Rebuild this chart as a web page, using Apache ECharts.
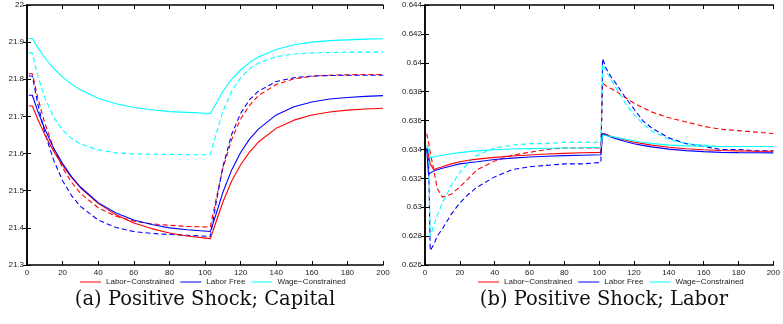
<!DOCTYPE html>
<html>
<head>
<meta charset="utf-8">
<script src="https://cdn.jsdelivr.net/npm/echarts@6/dist/echarts.min.js"></script>
<style>
html,body{margin:0;padding:0;background:#fff;}
#c{width:783px;height:324px;}
</style>
</head>
<body>
<div id="c"></div>
<script>
// ---------- Panel (a): Capital ----------
const timeA = [1,3,6,10,15,20,25,30,40,50,60,70,80,90,103,106,110,115,120,125,130,140,150,160,170,180,190,200];
const capRedSolid  = [21.728,21.728,21.693,21.651,21.606,21.568,21.536,21.508,21.466,21.435,21.413,21.398,21.386,21.378,21.371,21.413,21.469,21.526,21.570,21.604,21.631,21.668,21.690,21.704,21.712,21.717,21.720,21.722];
const capBlueSolid = [21.757,21.757,21.715,21.666,21.614,21.573,21.538,21.510,21.468,21.440,21.421,21.409,21.400,21.395,21.390,21.434,21.495,21.556,21.603,21.639,21.666,21.704,21.726,21.739,21.747,21.751,21.754,21.756];
const capCyanSolid = [21.910,21.910,21.886,21.858,21.829,21.806,21.787,21.772,21.749,21.734,21.724,21.718,21.713,21.711,21.708,21.733,21.767,21.800,21.825,21.845,21.860,21.880,21.893,21.900,21.904,21.906,21.908,21.909];
const capRedDash   = [21.815,21.815,21.751,21.682,21.614,21.562,21.523,21.493,21.454,21.431,21.418,21.411,21.407,21.404,21.402,21.472,21.559,21.638,21.693,21.730,21.756,21.786,21.801,21.808,21.811,21.812,21.813,21.813];
const capBlueDash  = [21.809,21.809,21.735,21.656,21.582,21.527,21.487,21.458,21.421,21.401,21.390,21.385,21.382,21.380,21.377,21.461,21.564,21.652,21.708,21.745,21.768,21.794,21.804,21.809,21.810,21.811,21.811,21.811];
const capCyanDash  = [21.871,21.871,21.810,21.750,21.698,21.663,21.641,21.626,21.610,21.602,21.599,21.598,21.598,21.597,21.597,21.649,21.713,21.768,21.804,21.828,21.844,21.861,21.868,21.871,21.872,21.873,21.873,21.873];

// ---------- Panel (b): Labor ----------
const timeB = [1,2,3,5,7,10,15,20,25,30,40,50,60,70,80,90,101,102,104,107,110,115,120,125,130,140,150,160,170,180,190,200];
const labRedSolid  = [0.6340,0.6336,0.6330,0.6326,0.6327,0.6328,0.6330,0.63315,0.63325,0.63333,0.63345,0.63355,0.63362,0.63368,0.63373,0.63377,0.6338,0.6351,0.63505,0.6349,0.6348,0.63465,0.6345,0.6344,0.6343,0.63415,0.63405,0.63398,0.63393,0.6339,0.63388,0.63387];
const labBlueSolid = [0.6340,0.6323,0.6323,0.6325,0.6326,0.6327,0.63285,0.6330,0.63308,0.63315,0.6333,0.6334,0.63348,0.63353,0.63357,0.6336,0.63363,0.6351,0.6350,0.63485,0.63472,0.63455,0.6344,0.63428,0.63418,0.63402,0.63392,0.63385,0.6338,0.63378,0.63377,0.63376];
const labCyanSolid = [0.6342,0.6340,0.6334,0.6335,0.63355,0.6336,0.6337,0.63378,0.63385,0.6339,0.63398,0.63403,0.63406,0.63408,0.6341,0.63412,0.63415,0.6350,0.63495,0.6349,0.63482,0.6347,0.6346,0.6345,0.63442,0.6343,0.63425,0.63422,0.6342,0.6342,0.6342,0.6342];
const labRedDash   = [0.6351,0.6345,0.6338,0.6326,0.6313,0.6307,0.6309,0.6314,0.6320,0.6326,0.6332,0.6336,0.6338,0.6340,0.6341,0.6341,0.6341,0.6386,0.6384,0.6382,0.6380,0.6376,0.6372,0.6369,0.6366,0.6362,0.6359,0.6356,0.6354,0.6353,0.6352,0.6351];
const labBlueDash  = [0.6341,0.6338,0.6270,0.6274,0.6280,0.6285,0.6295,0.6303,0.6309,0.6314,0.6321,0.6326,0.6328,0.6329,0.6330,0.6330,0.6331,0.6403,0.6396,0.6390,0.6385,0.6376,0.6368,0.6360,0.6355,0.6348,0.6344,0.6342,0.6340,0.6340,0.6339,0.6339];
const labCyanDash  = [0.6343,0.6340,0.6280,0.6287,0.6294,0.6303,0.6315,0.6324,0.6331,0.6336,0.6341,0.6343,0.6344,0.6344,0.6345,0.6345,0.6345,0.6399,0.6394,0.6388,0.6382,0.6372,0.6364,0.6358,0.6353,0.6347,0.6344,0.6343,0.6342,0.6342,0.6342,0.6342];

const legendNames = ['Labor\u2212Constrained','Labor Free','Wage\u2212Constrained'];
const captions = ['(a) Positive Shock; Capital','(b) Positive Shock; Labor'];
const xTicks = {min:0, max:200, interval:20};
const yTicksA = {min:21.3, max:22, interval:0.1};
const yTicksB = {min:0.626, max:0.644, interval:0.002};

const RED='#ff0000', BLUE='#0000ff', CYAN='#00ffff';
const fmt = v => String(parseFloat(Number(v).toFixed(4)));
const lab = {fontFamily:'"Liberation Sans", Arial, sans-serif', fontSize:8, color:'#222'};
const axLine = {show:true, lineStyle:{color:'#000', width:1.5}};

function xAx(grid, pos, showLabel){
  return Object.assign({type:'value', gridIndex:grid, position:pos,
    axisLine:axLine, axisTick:{show:true, inside:true, length:4, lineStyle:{color:'#000',width:1}},
    axisLabel: showLabel ? Object.assign({show:true, margin:4, formatter:fmt}, lab) : {show:false},
    splitLine:{show:false}}, xTicks);
}
function yAx(grid, pos, showLabel, ticks){
  return Object.assign({type:'value', gridIndex:grid, position:pos,
    axisLine:axLine, axisTick:{show:true, inside:true, length:4, lineStyle:{color:'#000',width:1}},
    axisLabel: showLabel ? Object.assign({show:true, margin:3, formatter:fmt}, lab) : {show:false},
    splitLine:{show:false}}, ticks);
}
function pairs(t, v){ return t.map((x,i)=>[x, v[i]]); }
function ser(name, t, v, color, dashed, xi, yi){
  return {type:'line', name:name, xAxisIndex:xi, yAxisIndex:yi, data:pairs(t,v),
    symbol:'none', smooth:false, animation:false,
    lineStyle:{color:color, width:1.1, type: dashed ? [5,3] : 'solid'},
    itemStyle:{color:color}};
}

const series = [
  ser('capRedDash', timeA, capRedDash, RED, true, 0, 0),
  ser('capBlueDash', timeA, capBlueDash, BLUE, true, 0, 0),
  ser('capCyanDash', timeA, capCyanDash, CYAN, true, 0, 0),
  ser(legendNames[0], timeA, capRedSolid, RED, false, 0, 0),
  ser(legendNames[1], timeA, capBlueSolid, BLUE, false, 0, 0),
  ser(legendNames[2], timeA, capCyanSolid, CYAN, false, 0, 0),
  ser('labRedDash', timeB, labRedDash, RED, true, 2, 2),
  ser('labBlueDash', timeB, labBlueDash, BLUE, true, 2, 2),
  ser('labCyanDash', timeB, labCyanDash, CYAN, true, 2, 2),
  ser(legendNames[0], timeB, labRedSolid, RED, false, 2, 2),
  ser(legendNames[1], timeB, labBlueSolid, BLUE, false, 2, 2),
  ser(legendNames[2], timeB, labCyanSolid, CYAN, false, 2, 2)
];

const legendBase = {data:legendNames, orient:'horizontal', top:272, icon:'rect', itemWidth:21, itemHeight:1, itemGap:6,
  selectedMode:false, textStyle:{fontFamily:'"Liberation Sans", Arial, sans-serif', fontSize:8, color:'#222', lineHeight:10}};

const chart = echarts.init(document.getElementById('c'), null, {renderer:'canvas'});
chart.setOption({
  backgroundColor:'#fff',
  animation:false,
  grid:[
    {left:27, top:5, width:356, height:260},
    {left:425, top:5, width:357, height:260}
  ],
  xAxis:[ xAx(0,'bottom',true), xAx(0,'top',false), xAx(1,'bottom',true), xAx(1,'top',false) ],
  yAxis:[ yAx(0,'left',true,yTicksA), yAx(0,'right',false,yTicksA), yAx(1,'left',true,yTicksB), yAx(1,'right',false,yTicksB) ],
  legend:[ Object.assign({left:75}, legendBase), Object.assign({left:473}, legendBase) ],
  series: series,
  graphic:[
    {type:'text', x:205, y:300, style:{text:captions[0], align:'center', verticalAlign:'middle', font:'19.5px "DejaVu Serif", serif', fill:'#111'}},
    {type:'text', x:604, y:300, style:{text:captions[1], align:'center', verticalAlign:'middle', font:'19.5px "DejaVu Serif", serif', fill:'#111'}}
  ]
});
</script>
</body>
</html>
